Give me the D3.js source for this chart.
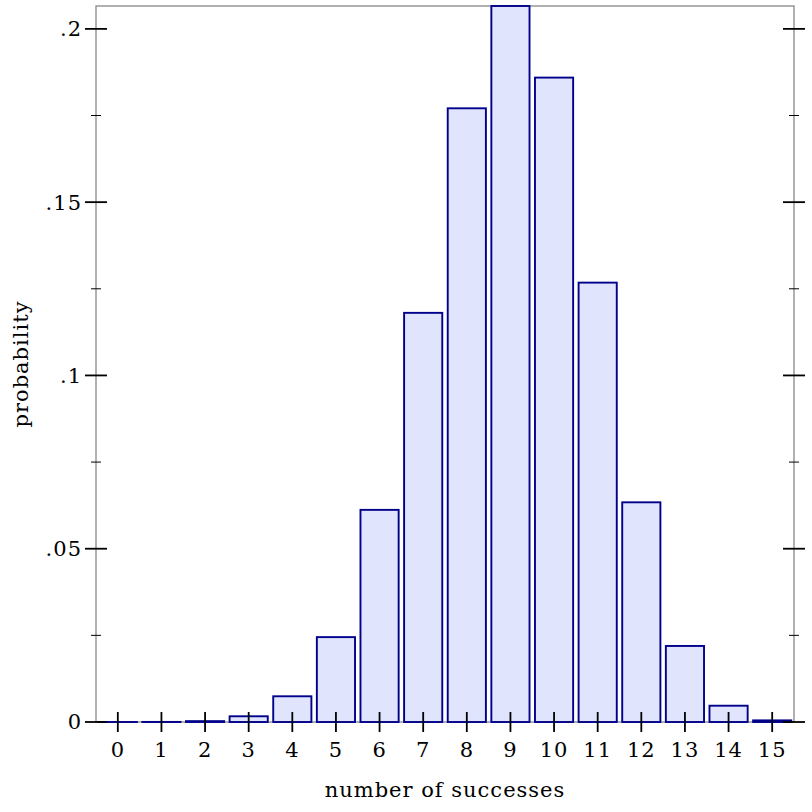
<!DOCTYPE html>
<html><head><meta charset="utf-8">
<script src="https://cdn.jsdelivr.net/npm/d3@7"></script>
<style>body{margin:0;background:#fff}svg{display:block}text{font-family:"DejaVu Serif",serif;fill:#000}</style>
</head><body>
<script>
const categories = [0,1,2,3,4,5,6,7,8,9,10,11,12,13,14,15];
const probabilities = [0.0000011,0.000024,0.00025,0.00165,0.00742,0.02449,0.06121,0.11806,0.17708,0.2066,0.18594,0.12678,0.06339,0.02194,0.0047,0.00047];
const yMajorTicks = [0,0.05,0.1,0.15,0.2];
const yTickLabels = ["0",".05",".1",".15",".2"];
const yMinorTicks = [0.025,0.075,0.125,0.175];
const xLabel = "number of successes", yLabel = "probability";

const W=812,H=812, L=96, R=794, T=6, B=722;
const FS=21, LS="1px";
const svg=d3.select("body").append("svg").attr("width",W).attr("height",H);
const x=d3.scaleLinear().domain([-0.5,15.5]).range([L,R]);
const y=d3.scaleLinear().domain([0,d3.max(probabilities)]).range([B,T]);
const bw=0.875;

// frame
svg.append("rect").attr("x",L).attr("y",T).attr("width",R-L).attr("height",B-T)
  .attr("fill","none").attr("stroke","#888").attr("stroke-width",1.3);

// bars
svg.append("g").selectAll("rect").data(categories).join("rect")
  .attr("x",(d)=>x(d-bw/2)).attr("width",(d)=>x(bw)-x(0))
  .attr("y",(d,i)=>y(probabilities[i])).attr("height",(d,i)=>B-y(probabilities[i]))
  .attr("fill","#e0e4fc").attr("stroke","#00008b").attr("stroke-width",1.9);

// y ticks left & right
const tk=svg.append("g").attr("stroke","#000").attr("stroke-width",1.8);
[L,R].forEach(px=>{
  yMajorTicks.forEach(v=>tk.append("line").attr("x1",px-11).attr("x2",px+11).attr("y1",y(v)).attr("y2",y(v)));
  yMinorTicks.forEach(v=>tk.append("line").attr("x1",px-5).attr("x2",px+5).attr("y1",y(v)).attr("y2",y(v)).attr("stroke-width",1));
});
// x ticks
categories.forEach(c=>tk.append("line").attr("x1",x(c)).attr("x2",x(c)).attr("y1",B-10).attr("y2",B+10));

// labels
svg.append("g").selectAll("text").data(yMajorTicks).join("text")
  .attr("x",L-14).attr("y",d=>y(d)).attr("dy","0.35em").attr("text-anchor","end")
  .attr("font-size",FS).attr("letter-spacing",LS).text((d,i)=>yTickLabels[i]);
svg.append("g").selectAll("text").data(categories).join("text")
  .attr("x",d=>x(d)).attr("y",B+35).attr("text-anchor","middle")
  .attr("font-size",FS).attr("letter-spacing",LS).text(d=>d);
svg.append("text").attr("x",(L+R)/2).attr("y",797).attr("text-anchor","middle").attr("font-size",FS).attr("letter-spacing",LS).text(xLabel);
svg.append("text").attr("transform",`translate(28,${(T+B)/2}) rotate(-90)`).attr("text-anchor","middle").attr("font-size",FS).attr("letter-spacing",LS).text(yLabel);
</script>
</body></html>
